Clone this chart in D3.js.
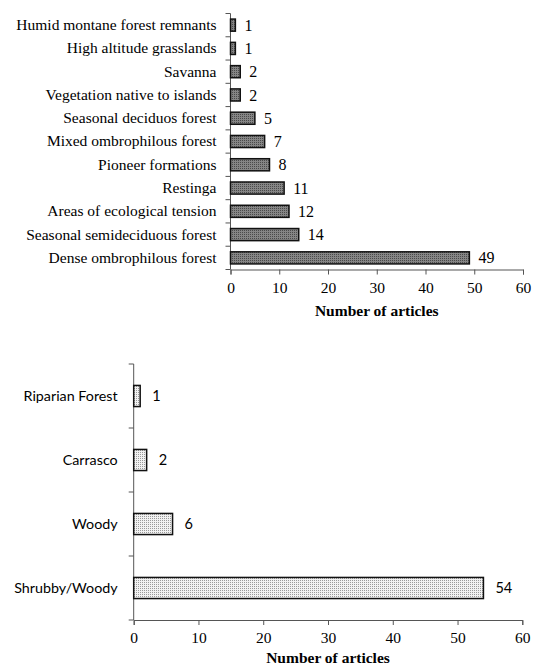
<!DOCTYPE html>
<html><head><meta charset="utf-8">
<script src="https://cdn.jsdelivr.net/npm/d3@7"></script>
<style>body{margin:0;background:#fff}svg{display:block}</style>
</head><body>
<script>
const topCategories = ["Humid montane forest remnants","High altitude grasslands","Savanna","Vegetation native to islands","Seasonal deciduos forest","Mixed ombrophilous forest","Pioneer formations","Restinga","Areas of ecological tension","Seasonal semideciduous forest","Dense ombrophilous forest"];
const topValues = [1,1,2,2,5,7,8,11,12,14,49];
const bottomCategories = ["Riparian Forest","Carrasco","Woody","Shrubby/Woody"];
const bottomValues = [1,2,6,54];
const xTicks = [0,10,20,30,40,50,60];
const axisTitle = "Number of articles";

const SERIF = "'Liberation Serif','Times New Roman',serif";
const SANS = "Lato,'Open Sans',sans-serif";

const svg = d3.select("body").append("svg").attr("width",533).attr("height",666);
const defs = svg.append("defs");
const p1 = defs.append("pattern").attr("id","darkDots").attr("patternUnits","userSpaceOnUse").attr("width",2).attr("height",2);
p1.append("rect").attr("width",2).attr("height",2).attr("fill","#858585");
p1.append("rect").attr("width",1).attr("height",1).attr("fill","#4a4a4a");
const p2 = defs.append("pattern").attr("id","lightDots").attr("patternUnits","userSpaceOnUse").attr("width",2).attr("height",2);
p2.append("rect").attr("width",2).attr("height",2).attr("fill","#f2f2f2");
p2.append("rect").attr("width",1).attr("height",1).attr("fill","#9a9a9a");

function chart(cfg){
  const g = svg.append("g");
  const x = d3.scaleLinear().domain([0,60]).range([cfg.x0,cfg.x1]);
  const y = d3.scaleBand().domain(cfg.cats).range([cfg.yTop,cfg.yBot]).paddingInner(cfg.pad).paddingOuter(cfg.pad/2);
  const ya = g.append("g").attr("transform",`translate(${cfg.x0},0)`)
    .call(d3.axisLeft(y).tickSize(0).tickPadding(cfg.labelPad));
  ya.select(".domain").remove();
  ya.selectAll("text").style("font-family",cfg.labelFont).style("font-size",cfg.labelSize+"px").attr("fill","#000");
  g.append("line").attr("x1",cfg.x0).attr("x2",cfg.x0).attr("y1",cfg.yTop).attr("y2",cfg.yBot).attr("stroke","#555").attr("stroke-width",1);
  const bounds = d3.range(cfg.cats.length+1).map(i=>cfg.yTop+i*(cfg.yBot-cfg.yTop)/cfg.cats.length);
  g.selectAll(".yt").data(bounds).join("line").attr("x1",cfg.x0-5).attr("x2",cfg.x0).attr("y1",d=>d).attr("y2",d=>d).attr("stroke","#555");
  const xa = g.append("g").attr("transform",`translate(0,${cfg.yBot})`)
    .call(d3.axisBottom(x).tickValues(xTicks).tickSize(5).tickPadding(7));
  xa.select(".domain").attr("stroke","#555");
  xa.selectAll(".tick line").attr("stroke","#555");
  xa.selectAll("text").style("font-family",SERIF).style("font-size","15.5px").attr("fill","#000");
  g.selectAll(".bar").data(cfg.vals).join("rect")
    .attr("x",x(0)).attr("y",(d,i)=>y(cfg.cats[i])).attr("width",d=>x(d)-x(0)).attr("height",y.bandwidth())
    .attr("fill",cfg.fill).attr("stroke","#111").attr("stroke-width",1.5);
  g.selectAll(".val").data(cfg.vals).join("text")
    .attr("x",d=>x(d)+cfg.valPad).attr("y",(d,i)=>y(cfg.cats[i])+y.bandwidth()/2).attr("dy","0.35em")
    .style("font-family",cfg.valFont).style("font-size",cfg.valSize+"px").text(d=>d);
  g.append("text").attr("x",(cfg.x0+cfg.x1)/2).attr("y",cfg.titleY).attr("text-anchor","middle")
    .style("font-family",SERIF).style("font-weight","bold").style("font-size","15.5px").text(axisTitle);
}

chart({cats:topCategories, vals:topValues, x0:230.5, x1:523, yTop:13.5, yBot:269.5, pad:0.48,
  fill:"url(#darkDots)", labelFont:SERIF, labelSize:15.5, labelPad:14, valFont:SERIF, valSize:16, valPad:9, titleY:316});
chart({cats:bottomCategories, vals:bottomValues, x0:133.7, x1:522.3, yTop:364, yBot:620, pad:0.67,
  fill:"url(#lightDots)", labelFont:SANS, labelSize:14.3, labelPad:16, valFont:SANS, valSize:14.5, valPad:12, titleY:663});
</script>
</body></html>
